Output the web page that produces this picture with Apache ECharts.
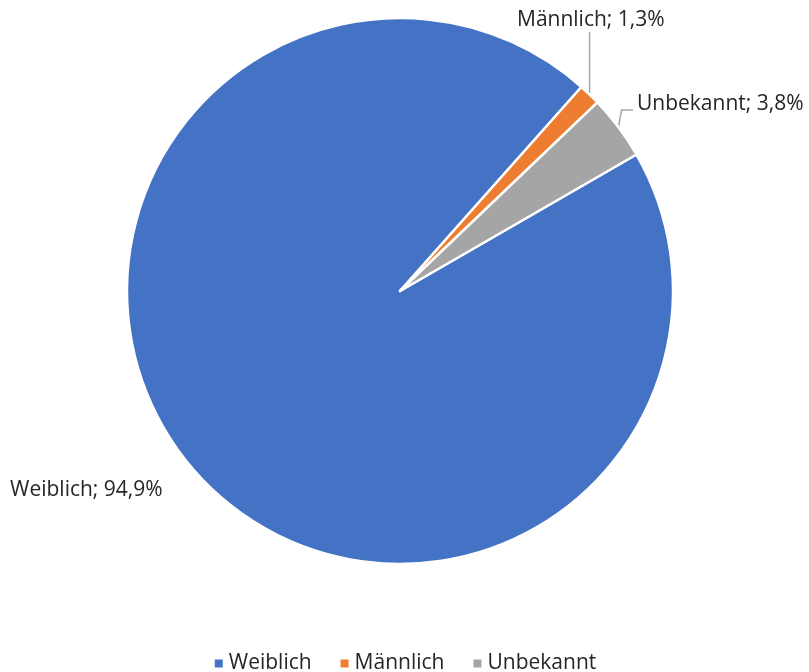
<!DOCTYPE html>
<html>
<head>
<meta charset="utf-8">
<script src="https://cdn.jsdelivr.net/npm/echarts@6/dist/echarts.min.js"></script>
<style>
  html, body { margin: 0; padding: 0; background: #fff; }
  #chart { width: 809px; height: 672px; }
</style>
</head>
<body>
<div id="chart"></div>
<script>
// Geschlechterverteilung (Anteile in Prozent)
const categories = ['Weiblich', 'Männlich', 'Unbekannt'];
const shares = [94.9, 1.3, 3.8];
const colors = ['#4472C4', '#ED7D31', '#A5A5A5'];

const FONT = '"Open Sans", "Noto Sans", sans-serif';

const chart = echarts.init(document.getElementById('chart'));

const fmt = v => v.toFixed(1).replace('.', ',');

chart.setOption({
  animation: false,
  color: colors,
  legend: {
    top: 648,
    left: 'center',
    icon: 'rect',
    itemWidth: 10,
    itemHeight: 10,
    itemGap: 27,
    textStyle: { fontFamily: FONT, fontSize: 21, color: '#262626' },
    data: categories
  },
  series: [{
    type: 'pie',
    center: [400, 291],
    radius: 273,
    startAngle: 30,
    clockwise: true,
    itemStyle: { borderColor: '#fff', borderWidth: 2.5 },
    label: {
      show: true,
      position: 'outside',
      overflow: 'none',
      fontFamily: FONT,
      fontSize: 21,
      color: '#262626',
      formatter: p => p.name + '; ' + fmt(p.value) + '%'
    },
    labelLine: {
      show: true,
      lineStyle: { color: '#A6A6A6', width: 1.5 }
    },
    labelLayout: function (params) {
      const start = params.labelLinePoints ? params.labelLinePoints[0] : null;
      if (params.dataIndex === 0) {
        return { x: 10, y: 490, align: 'left', verticalAlign: 'middle' };
      }
      if (params.dataIndex === 1) {
        return {
          x: 517, y: 20, align: 'left', verticalAlign: 'middle',
          labelLinePoints: [start, [start[0], 32], [start[0], 32]]
        };
      }
      return {
        x: 637, y: 104, align: 'left', verticalAlign: 'middle',
        labelLinePoints: [start, [start[0] + 3, 110], [633, 110]]
      };
    },
    data: categories.map((name, i) => ({
      name: name,
      value: shares[i],
      labelLine: { show: i !== 0 }
    }))
  }]
});
</script>
</body>
</html>
